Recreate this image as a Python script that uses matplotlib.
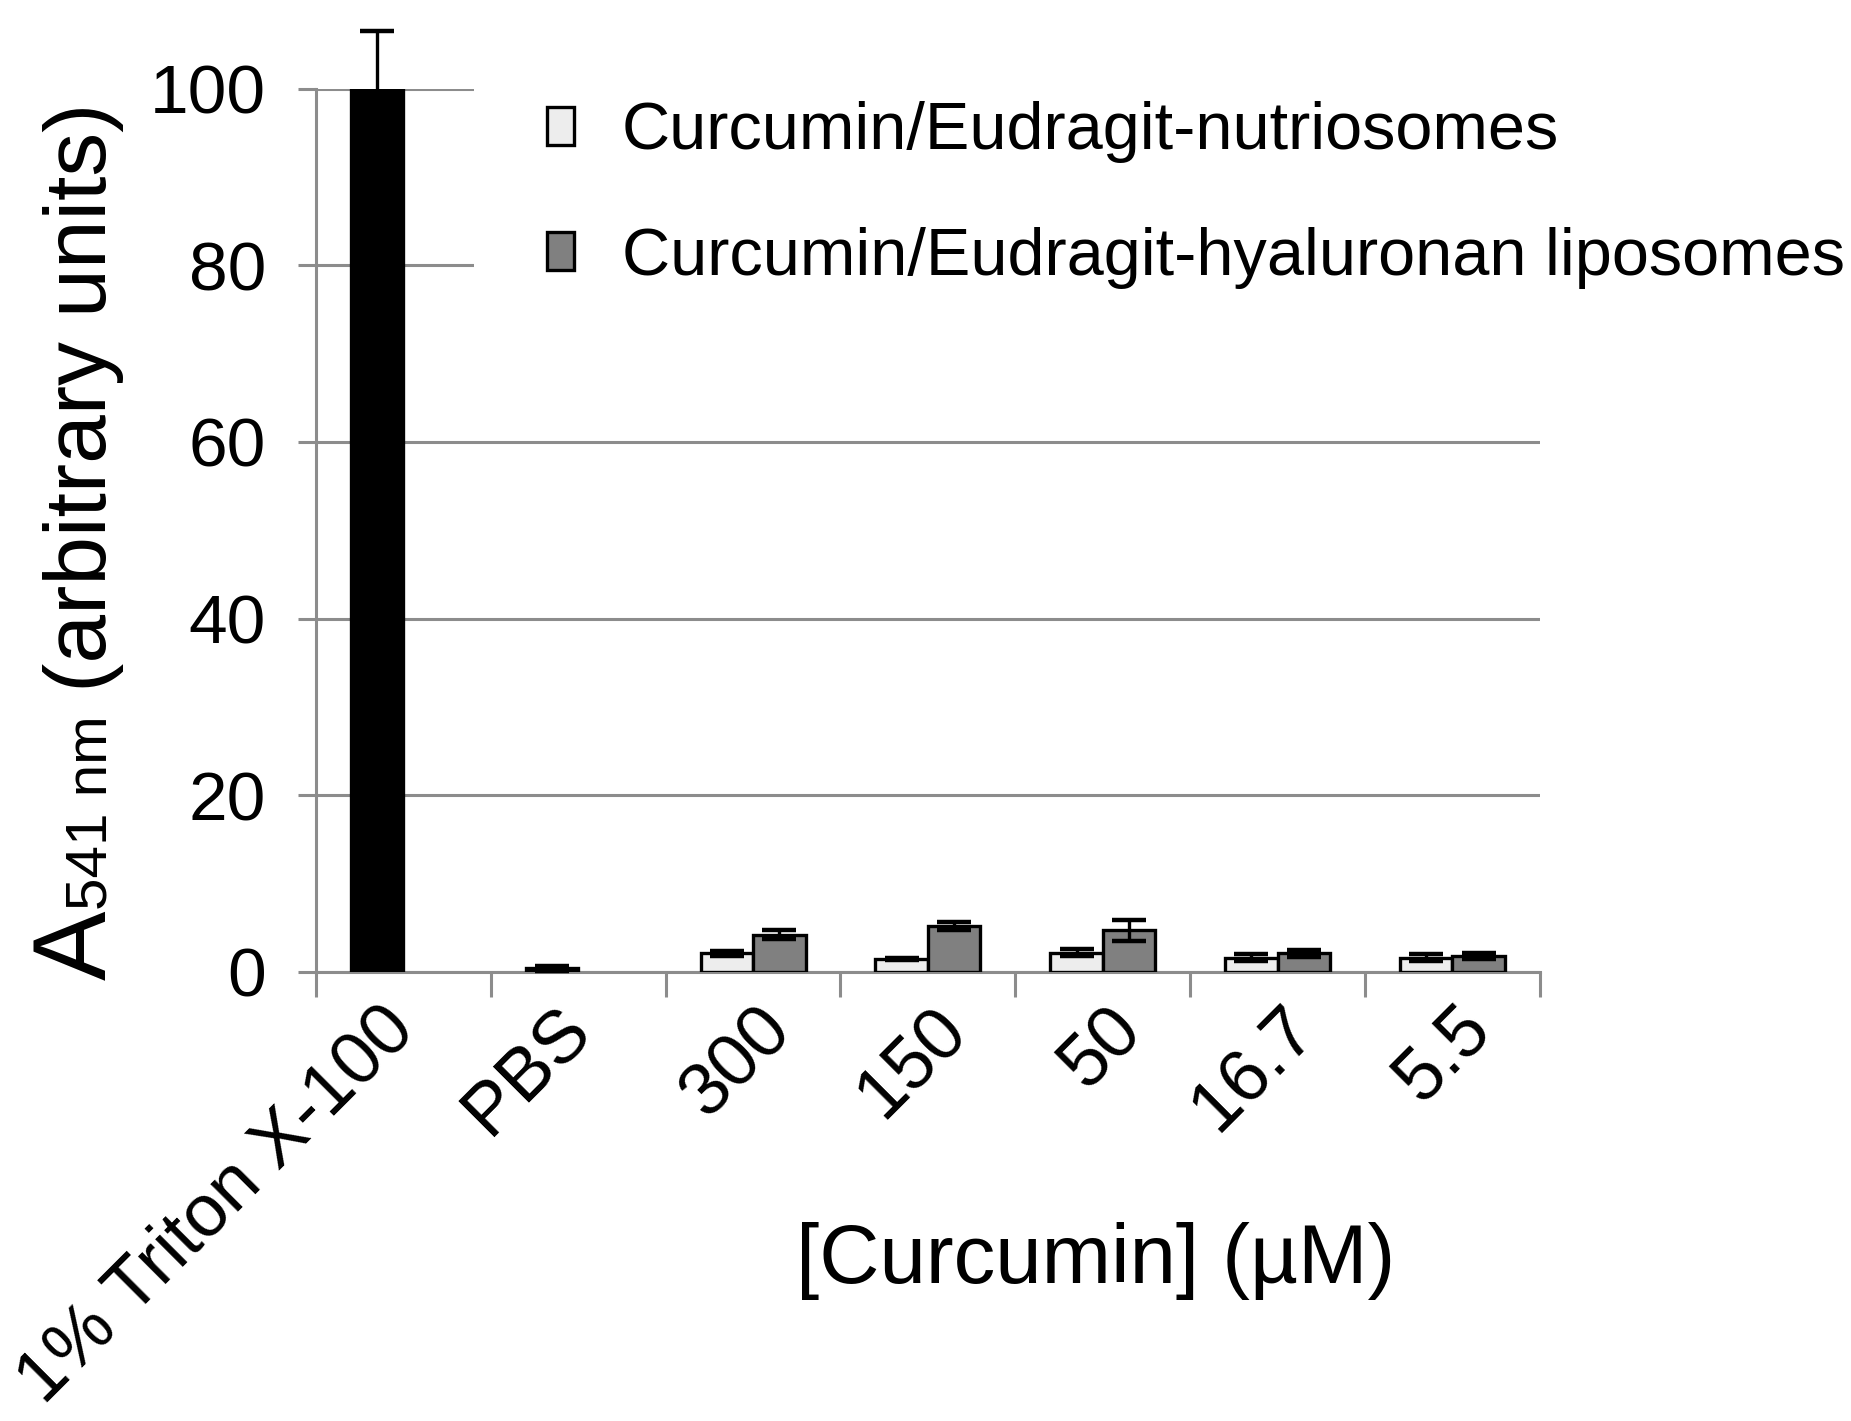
import matplotlib
matplotlib.use("Agg")
import matplotlib.pyplot as plt
import matplotlib.transforms as mtransforms
import numpy as np

plt.rcParams['font.family'] = ['Liberation Sans', 'DejaVu Sans']

# data
categories = ['1% Triton X-100', 'PBS', '300', '150', '50', '16.7', '5.5']
ctrl_idx = [0, 1]
ctrl_vals = [100, 0.4]
ctrl_err = [6.5, 0.3]
conc_idx = [2, 3, 4, 5, 6]
nutrio_vals = [2.1, 1.5, 2.2, 1.6, 1.6]
nutrio_err = [0.3, 0.1, 0.4, 0.4, 0.4]
hyal_vals = [4.2, 5.2, 4.7, 2.1, 1.8]
hyal_err = [0.5, 0.4, 1.2, 0.4, 0.3]
labels = ['Curcumin/Eudragit-nutriosomes', 'Curcumin/Eudragit-hyaluronan liposomes']

grid_col = '#8c8c8c'
w = 0.3
ekw = dict(fmt='none', ecolor='black', elinewidth=2.4, capsize=12, capthick=3.2)
# horizontal nudge of the rotated tick labels (inches)
label_dx = [-0.24, -0.24, 0.03, 0.03, 0.03, 0.03, 0.03]

fig = plt.figure(figsize=(18.51, 14.21), dpi=100)
ax = fig.add_axes([0.1707, 0.316, 0.6612, 0.6217])

x_c = np.array(ctrl_idx) - w / 2
x_n = np.array(conc_idx) - w / 2
x_h = np.array(conc_idx) + w / 2

ax.bar(x_c, ctrl_vals, w, color='black', edgecolor='black', linewidth=2.4, zorder=3)
b1 = ax.bar(x_n, nutrio_vals, w, color='#ededed', edgecolor='black', linewidth=2.4,
            label=labels[0], zorder=3)
b2 = ax.bar(x_h, hyal_vals, w, color='#808080', edgecolor='black', linewidth=2.4,
            label=labels[1], zorder=3)
for xx, yy, ee in [(x_c, ctrl_vals, ctrl_err), (x_n, nutrio_vals, nutrio_err),
                   (x_h, hyal_vals, hyal_err)]:
    eb = ax.errorbar(xx, yy, yerr=ee, zorder=4, **ekw)
    for a in eb.lines[1] + eb.lines[2]:
        a.set_clip_on(False)

ax.set_xlim(-0.5, len(categories) - 0.5)
ax.set_ylim(0, 100)
ax.set_yticks(np.arange(0, 101, 20))
ax.yaxis.grid(True, color=grid_col, linewidth=2.2)
ax.set_axisbelow(True)

for s in ['top', 'right']:
    ax.spines[s].set_visible(False)
for s in ['left', 'bottom']:
    ax.spines[s].set_color(grid_col)
    ax.spines[s].set_linewidth(2.2)

ax.tick_params(axis='y', length=13, width=2.2, color=grid_col, labelsize=50, pad=23)
ax.set_xticks(np.arange(-0.5, len(categories), 1.0))
ax.set_xticklabels([])
ax.tick_params(axis='x', which='major', length=18, width=2.2, color=grid_col)
ax.set_xticks(np.arange(len(categories)), minor=True)
ax.set_xticklabels(categories, minor=True, rotation=45, ha='right',
                   rotation_mode='anchor', fontsize=53)
ax.tick_params(axis='x', which='minor', length=0, pad=16)
for lbl, dx in zip(ax.xaxis.get_minorticklabels(), label_dx):
    shift = mtransforms.ScaledTranslation(dx, 0, fig.dpi_scale_trans)
    lbl.set_transform(lbl.get_transform() + shift)

leg = ax.legend(handles=[b1, b2], loc='upper left',
                bbox_to_anchor=(474 / 1851, 1 - 28 / 1421),
                bbox_transform=fig.transFigure, fontsize=48, frameon=True,
                fancybox=False, framealpha=1, facecolor='white', edgecolor='none',
                handlelength=0.4, handleheight=0.5, handletextpad=0.72,
                labelspacing=0.95, borderpad=1.1, borderaxespad=0)
leg.set_zorder(5)

fig.text(1096 / 1851, 1 - 1261 / 1421, '[Curcumin] (µM)', fontsize=60,
         ha='center', va='center')

# y label built from three pieces: "A", "541 nm", "(arbitrary units)"
fig.canvas.draw()
r = fig.canvas.get_renderer()
xb = 106
yb = 1421 - 980
parts = [('A', 75), ('541 nm', 42), (' (arbitrary units)', 63)]
for txt, fs in parts:
    t = fig.text(xb / 1851, yb / 1421, txt, fontsize=fs, rotation=90,
                 rotation_mode='anchor', ha='left', va='baseline')
    bb = t.get_window_extent(renderer=r)
    yb = bb.y1

fig.savefig('out.png', dpi=100)
